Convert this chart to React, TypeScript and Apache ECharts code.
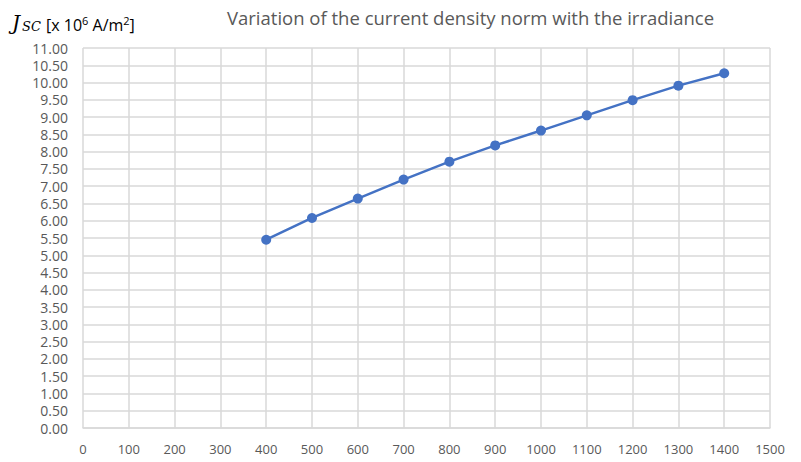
import React, { useEffect, useRef } from "react";
import * as echarts from "echarts";

// Irradiance (W/m²) and short-circuit current density norm (x 10^6 A/m²)
const irradiance = [400, 500, 600, 700, 800, 900, 1000, 1100, 1200, 1300, 1400];
const jsc = [5.45, 6.08, 6.64, 7.19, 7.71, 8.18, 8.61, 9.05, 9.49, 9.91, 10.27];

const titleText = "Variation of the current density norm with the irradiance";
const xMin = 0;
const xMax = 1500;
const xStep = 100;
const yMin = 0;
const yMax = 11;
const yStep = 0.5;

const FONT = "'Open Sans', 'Noto Sans', sans-serif";
const SERIF = "'DejaVu Serif', 'Liberation Serif', serif";
const GRID_COLOR = "#d9d9d9";
const TEXT_COLOR = "#595959";
const LINE_COLOR = "#4472c4";

export default function App() {
  const ref = useRef<HTMLDivElement>(null);

  useEffect(() => {
    if (!ref.current) return;
    const chart = echarts.init(ref.current, undefined, { renderer: "svg" });
    chart.setOption({
      animation: false,
      backgroundColor: "#ffffff",
      textStyle: { fontFamily: FONT },
      title: {
        text: titleText,
        left: 222,
        top: 3,
        textStyle: {
          fontFamily: FONT,
          fontSize: 18.5,
          fontWeight: "normal",
          color: TEXT_COLOR,
        },
      },
      graphic: [
        {
          type: "text",
          x: 12,
          y: 13,
          style: {
            text: "{j|J}{sub|SC}{t| [x 10}{sup|6}{t| A/m}{sup|2}{t|]}",
            rich: {
              j: {
                fontFamily: SERIF,
                fontStyle: "italic",
                fontSize: 20,
                fill: "#000",
                verticalAlign: "bottom",
              },
              sub: {
                fontFamily: SERIF,
                fontStyle: "italic",
                fontSize: 13,
                fill: "#000",
                verticalAlign: "bottom",
                padding: [0, 1, 0, 2],
              },
              t: {
                fontFamily: FONT,
                fontSize: 16,
                fill: "#000",
                verticalAlign: "bottom",
              },
              sup: {
                fontFamily: FONT,
                fontSize: 11,
                fill: "#000",
                verticalAlign: "bottom",
                padding: [0, 0, 7, 0],
              },
            },
          },
        },
      ],
      grid: { left: 83, right: 31, top: 48, bottom: 34 },
      xAxis: {
        type: "value",
        min: xMin,
        max: xMax,
        interval: xStep,
        axisLine: { show: true, lineStyle: { color: GRID_COLOR, width: 1.5 } },
        axisTick: { show: false },
        splitLine: { show: true, lineStyle: { color: GRID_COLOR, width: 1.5 } },
        axisLabel: {
          color: TEXT_COLOR,
          fontSize: 13,
          margin: 14,
          fontFamily: FONT,
          formatter: (v: number) => String(v),
        },
      },
      yAxis: {
        type: "value",
        min: yMin,
        max: yMax,
        interval: yStep,
        axisLine: { show: false },
        axisTick: { show: false },
        splitLine: { show: true, lineStyle: { color: GRID_COLOR, width: 1.5 } },
        axisLabel: {
          color: TEXT_COLOR,
          fontSize: 14,
          margin: 15,
          fontFamily: FONT,
          formatter: (v: number) => v.toFixed(2),
        },
      },
      series: [
        {
          type: "line",
          data: irradiance.map((x, i) => [x, jsc[i]]),
          lineStyle: { color: LINE_COLOR, width: 2.5 },
          itemStyle: { color: LINE_COLOR },
          symbol: "circle",
          symbolSize: 10,
        },
      ],
    });
    return () => chart.dispose();
  }, []);

  return <div ref={ref} style={{ width: 801, height: 462, position: "absolute", left: 0, top: 0 }} />;
}
